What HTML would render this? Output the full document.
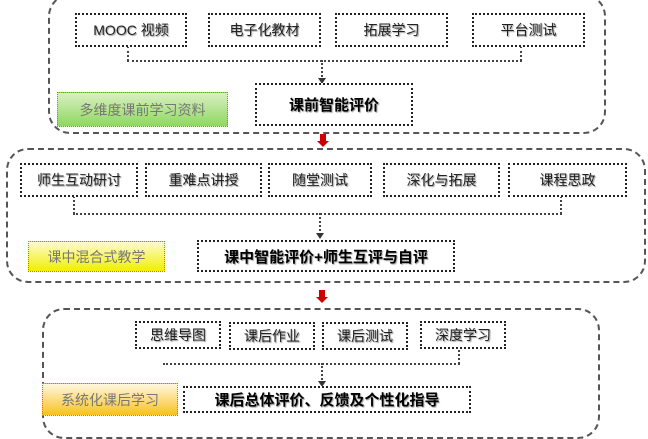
<!DOCTYPE html>
<html><head><meta charset="utf-8"><style>
body{margin:0;width:648px;height:426px;background:#fff;position:relative;overflow:hidden;font-family:"Liberation Sans","Noto Sans CJK SC",sans-serif;}
.o{position:absolute;border:2px dashed #555;border-radius:22px;box-sizing:border-box;}
.b{position:absolute;border:2px dotted #222;box-sizing:border-box;display:flex;align-items:center;justify-content:center;font-size:14px;color:#222;text-shadow:1px 1px 1px #999;white-space:nowrap;background:#fff;}
.e{font-weight:bold;font-size:15px;color:#000;}
.l{position:absolute;border:1px dotted #c66;box-sizing:border-box;display:flex;align-items:center;justify-content:center;font-size:14px;color:#777;white-space:nowrap;}
.h{position:absolute;border-top:2px dotted #444;height:0;}
.v{position:absolute;border-left:2px dotted #444;width:0;}
.ar{position:absolute;width:0;height:0;border-left:4px solid transparent;border-right:4px solid transparent;border-top:6px solid #333;}
.red{position:absolute;width:6px;background:#c00;}
.rh{position:absolute;width:0;height:0;border-left:6px solid transparent;border-right:6px solid transparent;border-top:6px solid #c00;}
</style></head><body>
<div class="o" style="left:48px;top:-6px;width:558px;height:140px"></div>
<div class="v" style="left:127px;top:46px;height:15px"></div>
<div class="v" style="left:520px;top:46px;height:15px"></div>
<div class="h" style="left:127px;top:60px;width:395px"></div>
<div class="v" style="left:321px;top:60px;height:20px"></div>
<div class="ar" style="left:318px;top:78px"></div>
<div class="b" style="left:75px;top:13px;width:112px;height:34px">MOOC 视频</div>
<div class="b" style="left:208px;top:13px;width:113px;height:34px">电子化教材</div>
<div class="b" style="left:335px;top:13px;width:113px;height:34px">拓展学习</div>
<div class="b" style="left:472px;top:13px;width:113px;height:34px">平台测试</div>
<div class="b e" style="left:255px;top:83px;width:158px;height:43px">课前智能评价</div>
<div class="l" style="left:57px;top:92px;width:171px;height:35px;background:linear-gradient(#d8f0c0,#8ed860)">多维度课前学习资料</div>
<div class="red" style="left:320px;top:134px;height:8px"></div>
<div class="rh" style="left:317px;top:141px"></div>

<div class="o" style="left:6px;top:148px;width:640px;height:135px"></div>
<div class="v" style="left:73px;top:196px;height:18px"></div>
<div class="v" style="left:560px;top:196px;height:18px"></div>
<div class="h" style="left:73px;top:213px;width:489px"></div>
<div class="v" style="left:319px;top:213px;height:22px"></div>
<div class="ar" style="left:316px;top:233px"></div>
<div class="b" style="left:20px;top:163px;width:118px;height:34px">师生互动研讨</div>
<div class="b" style="left:145px;top:163px;width:117px;height:34px">重难点讲授</div>
<div class="b" style="left:268px;top:163px;width:104px;height:34px">随堂测试</div>
<div class="b" style="left:383px;top:163px;width:117px;height:34px">深化与拓展</div>
<div class="b" style="left:508px;top:163px;width:119px;height:34px">课程思政</div>
<div class="b e" style="left:197px;top:240px;width:258px;height:32px">课中智能评价+师生互评与自评</div>
<div class="l" style="left:28px;top:241px;width:137px;height:31px;background:linear-gradient(#fffbd0,#f0f000)">课中混合式教学</div>
<div class="red" style="left:319px;top:290px;height:8px"></div>
<div class="rh" style="left:316px;top:297px"></div>

<div class="o" style="left:42px;top:308px;width:558px;height:131px"></div>
<div class="h" style="left:163px;top:363px;width:297px"></div>
<div class="v" style="left:458px;top:347px;height:17px"></div>
<div class="v" style="left:321px;top:363px;height:20px"></div>
<div class="ar" style="left:318px;top:381px"></div>
<div class="b" style="left:135px;top:321px;width:86px;height:28px">思维导图</div>
<div class="b" style="left:229px;top:322px;width:86px;height:28px">课后作业</div>
<div class="b" style="left:322px;top:322px;width:86px;height:28px">课后测试</div>
<div class="b" style="left:420px;top:321px;width:86px;height:28px">深度学习</div>
<div class="b e" style="left:183px;top:386px;width:288px;height:27px">课后总体评价、反馈及个性化指导</div>
<div class="l" style="left:42px;top:383px;width:136px;height:33px;background:linear-gradient(#fff8e0,#f8c020)">系统化课后学习</div>
</body></html>
